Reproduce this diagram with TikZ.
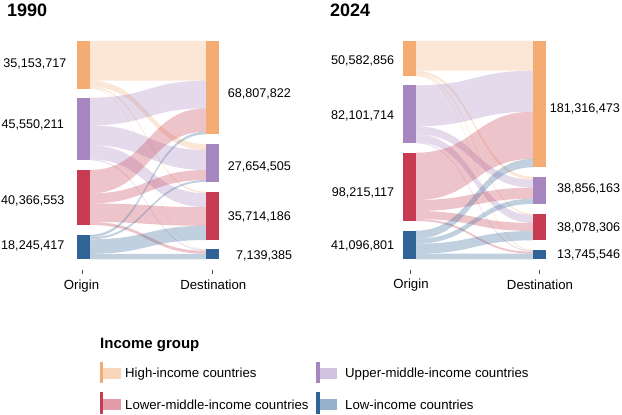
\documentclass[tikz,border=0pt]{standalone}
\usepackage{fontspec}
\setmainfont{Liberation Sans}
\usepackage{tikz}

\definecolor{hic}{HTML}{F4AC73}
\definecolor{umc}{HTML}{A686BF}
\definecolor{lmc}{HTML}{C73C52}
\definecolor{lic}{HTML}{316496}

% band between an origin segment and a destination segment
\newcommand{\flowband}[7]{%
  \fill[#7, fill opacity=0.3] (#1,#3) .. controls ({(#1+#2)/2},#3) and ({(#1+#2)/2},#5) .. (#2,#5)
    -- (#2,#6) .. controls ({(#1+#2)/2},#6) and ({(#1+#2)/2},#4) .. (#1,#4) -- cycle;}

\tikzset{
  num/.style={font=\fontsize{12.6}{14}\selectfont, inner sep=0pt},
  axlabel/.style={font=\fontsize{13.2}{15}\selectfont, inner sep=0pt},
  yeartitle/.style={font=\fontsize{18}{20}\selectfont\bfseries, inner sep=0pt, anchor=west},
  legtext/.style={font=\fontsize{13.2}{15}\selectfont, inner sep=0pt, anchor=west},
  tick/.style={black!70, line width=0.8pt}
}

\begin{document}
\begin{tikzpicture}[x=1pt,y=-1pt]
        \useasboundingbox (0,0) rectangle (622,415);

        % titles
        \node[yeartitle] (t90) at (7,10) {1990};
        \node[yeartitle] (t24) at (330,10) {2024};

        % 1990 flows (origin -> destination)
        \flowband{90}{206}{40.7}{80.7}{40.7}{80.7}{hic}
        \flowband{90}{206}{80.7}{86.7}{144}{150}{hic}
        \flowband{90}{206}{86.7}{88.2}{191.7}{193.2}{hic}
        \flowband{90}{206}{88.2}{88.7}{249.3}{249.8}{hic}
        \flowband{90}{206}{97.7}{125.3}{80.7}{108.3}{umc}
        \flowband{90}{206}{125.3}{145.3}{150}{170}{umc}
        \flowband{90}{206}{145.3}{159.3}{193.2}{207.2}{umc}
        \flowband{90}{206}{159.3}{160.3}{249.8}{250.8}{umc}
        \flowband{90}{206}{170}{193.4}{108.3}{131.7}{lmc}
        \flowband{90}{206}{193.4}{203.4}{170}{180}{lmc}
        \flowband{90}{206}{203.4}{222}{207.2}{225.8}{lmc}
        \flowband{90}{206}{222}{225}{250.8}{253.8}{lmc}
        \flowband{90}{206}{234.7}{237.3}{131.7}{134.3}{lic}
        \flowband{90}{206}{237.3}{239.3}{180}{182}{lic}
        \flowband{90}{206}{239.3}{253.8}{225.8}{240}{lic}
        \flowband{90}{206}{253.8}{259.3}{253.8}{259.3}{lic}

        % 1990 bars
        \fill[hic] (77,40.7) rectangle (90,88.7);
        \fill[umc] (77,97.7) rectangle (90,160.3);
        \fill[lmc] (77,170) rectangle (90,225);
        \fill[lic] (77,234.7) rectangle (90,259.3);
        \fill[hic] (206,40.7) rectangle (219.3,134.3);
        \fill[umc] (206,144) rectangle (219.3,182);
        \fill[lmc] (206,191.7) rectangle (219.3,240);
        \fill[lic] (206,249.3) rectangle (219.3,259.3);

        % 1990 values
        \node[num, anchor=east] (o90h) at (66.7,63.7) {35,153,717};
        \node[num, anchor=east] (o90u) at (64,125) {45,550,211};
        \node[num, anchor=east] (o90l) at (64.5,201) {40,366,553};
        \node[num, anchor=east] (o90w) at (64.5,246) {18,245,417};
        \node[num, anchor=west] (d90h) at (227.7,94.3) {68,807,822};
        \node[num, anchor=west] (d90u) at (227.7,166.7) {27,654,505};
        \node[num, anchor=west] (d90l) at (227.7,216.7) {35,714,186};
        \node[num, anchor=west] (d90w) at (236,255.7) {7,139,385};

        % 1990 axis
        \draw[tick] (82.7,270) -- (82.7,273.5);
        \draw[tick] (212.3,270) -- (212.3,273.5);
        \node[axlabel] (or90) at (81.5,286) {Origin};
        \node[axlabel] (de90) at (213.3,284.5) {Destination};

        % 2024 flows (origin -> destination)
        \flowband{416}{533}{40.7}{70.7}{40.7}{70.7}{hic}
        \flowband{416}{533}{70.7}{73.7}{176.7}{179.7}{hic}
        \flowband{416}{533}{73.7}{75}{213.7}{215}{hic}
        \flowband{416}{533}{75}{76}{249.7}{250.7}{hic}
        \flowband{416}{533}{85.3}{126.3}{70.7}{111.7}{umc}
        \flowband{416}{533}{126.3}{134.3}{179.7}{187.7}{umc}
        \flowband{416}{533}{134.3}{142.3}{215}{223}{umc}
        \flowband{416}{533}{142.3}{143.3}{250.7}{251.7}{umc}
        \flowband{416}{533}{152.7}{200}{111.7}{159}{lmc}
        \flowband{416}{533}{200}{211}{187.7}{198.7}{lmc}
        \flowband{416}{533}{211}{219}{223}{231}{lmc}
        \flowband{416}{533}{219}{221}{251.7}{253.7}{lmc}
        \flowband{416}{533}{230.7}{238.7}{159}{167.3}{lic}
        \flowband{416}{533}{238.7}{243.7}{198.7}{204}{lic}
        \flowband{416}{533}{243.7}{253.7}{231}{240.3}{lic}
        \flowband{416}{533}{253.7}{259.3}{253.7}{259.3}{lic}

        % 2024 bars
        \fill[hic] (403.3,40.7) rectangle (416,76);
        \fill[umc] (403.3,85.3) rectangle (416,143.3);
        \fill[lmc] (403.3,152.7) rectangle (416,221);
        \fill[lic] (403.3,230.7) rectangle (416,259.3);
        \fill[hic] (533,40.7) rectangle (546,167.3);
        \fill[umc] (533,176.7) rectangle (546,204);
        \fill[lmc] (533,213.7) rectangle (546,240.3);
        \fill[lic] (533,249.7) rectangle (546,259.3);

        % 2024 values
        \node[num, anchor=east] (o24h) at (394.3,61) {50,582,856};
        \node[num, anchor=east] (o24u) at (394.3,115.7) {82,101,714};
        \node[num, anchor=east] (o24l) at (394.3,193.3) {98,215,117};
        \node[num, anchor=east] (o24w) at (394.3,245.7) {41,096,801};
        \node[num, anchor=west] (d24h) at (549.7,109) {181,316,473};
        \node[num, anchor=west] (d24u) at (557,189.3) {38,856,163};
        \node[num, anchor=west] (d24l) at (557,228) {38,078,306};
        \node[num, anchor=west] (d24w) at (557,255) {13,745,546};

        % 2024 axis
        \draw[tick] (410,270) -- (410,273.5);
        \draw[tick] (539.5,270) -- (539.5,273.5);
        \node[axlabel] (or24) at (411,285) {Origin};
        \node[axlabel] (de24) at (540,284.5) {Destination};

        % legend
        \node[font=\fontsize{15}{17}\selectfont\bfseries, inner sep=0pt, anchor=west] (leg) at (100,345) {Income group};
        \fill[hic, fill opacity=0.5] (102.5,368.3) rectangle (120.7,379);
        \fill[hic] (99.5,361.7) rectangle (102.5,383.3);
        \node[legtext] (lgh) at (125,374) {High-income countries};
        \fill[umc, fill opacity=0.5] (320,368.3) rectangle (337,379);
        \fill[umc] (316,361.7) rectangle (320,383.3);
        \node[legtext] (lgu) at (345,374) {Upper-middle-income countries};
        \fill[lmc, fill opacity=0.5] (102.5,399) rectangle (120.7,410);
        \fill[lmc] (99.5,392.3) rectangle (102.5,414.3);
        \node[legtext] (lgl) at (125,404.3) {Lower-middle-income countries};
        \fill[lic, fill opacity=0.5] (320,399) rectangle (337,410);
        \fill[lic] (316,392.3) rectangle (320,414.3);
        \node[legtext] (lgw) at (345,404.3) {Low-income countries};
    \end{tikzpicture}
\end{document}
